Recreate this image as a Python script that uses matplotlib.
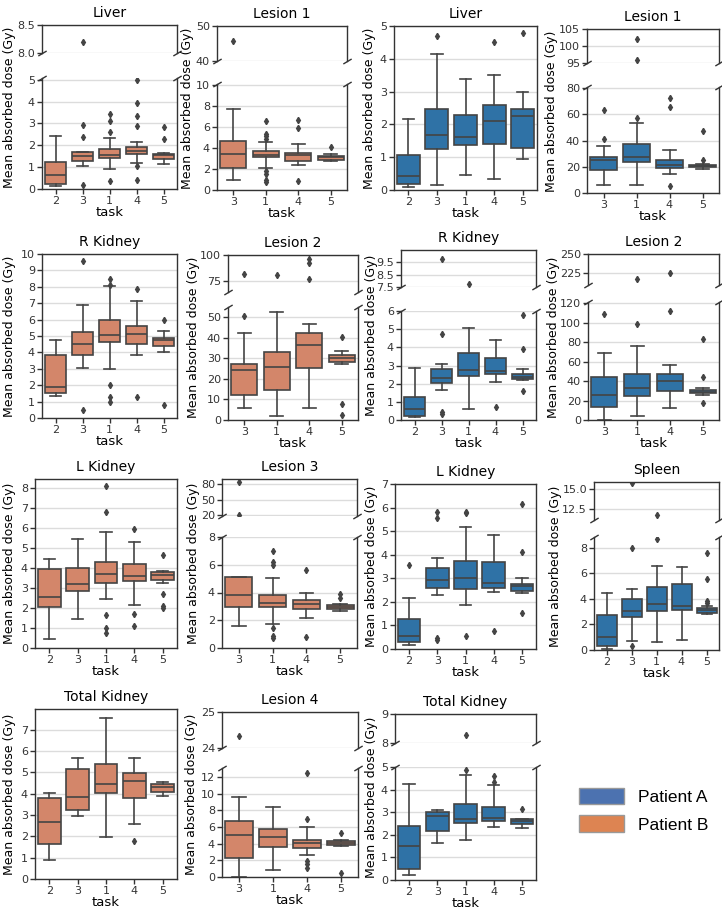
import matplotlib
matplotlib.use("Agg")
import matplotlib.pyplot as plt
from matplotlib.patches import Patch

W, H = 722, 916
BLUE = "#2f72a6"
ORANGE = "#d3866a"
LINE = "#444444"
FRAME = "#333333"
GRID = "#dcdcdc"

tasks5 = [2, 3, 1, 4, 5]
tasks4 = [3, 1, 4, 5]

# box stats per task: (whislo, q1, med, q3, whishi)
liver_b = [(0.15, 0.25, 0.66, 1.23, 2.41), (1.04, 1.27, 1.5, 1.69, 1.7),
           (0.9, 1.4, 1.57, 1.81, 2.32), (1.19, 1.58, 1.76, 1.91, 2.14),
           (1.14, 1.37, 1.55, 1.61, 1.64)]
liver_b_out = [[], [2.93, 2.37, 0.2, 8.2], [3.45, 3.1, 2.6, 0.35],
               [5.0, 3.95, 3.33, 2.9, 1.07, 0.4], [2.85, 2.27]]

lesion1_b = [(0.95, 2.05, 3.47, 4.7, 7.7), (2.1, 3.1, 3.3, 3.7, 4.57),
             (2.4, 2.8, 3.3, 3.56, 4.4), (2.8, 2.9, 3.1, 3.28, 3.47)]
lesion1_b_out = [[45.8], [6.6, 5.35, 5.1, 4.9, 1.8, 1.5, 1.0, 0.75],
                 [6.7, 5.9, 0.9], [4.1]]

liver_a = [(0.08, 0.17, 0.42, 1.07, 2.15), (0.15, 1.25, 1.67, 2.46, 4.14),
           (0.45, 1.36, 1.63, 2.28, 3.39), (0.33, 1.41, 2.11, 2.6, 3.51),
           (0.96, 1.27, 2.25, 2.46, 2.99)]
liver_a_out = [[], [4.7], [], [4.52], [4.78]]

lesion1_a = [(5.8, 17.6, 24.9, 27.2, 36.2), (6.0, 23.6, 27.7, 37.2, 53.8),
             (14.6, 19.1, 21.4, 24.9, 32.7), (18.0, 19.5, 20.3, 21.3, 22.0)]
lesion1_a_out = [[63.6, 41.5], [57.4, 102.0, 96.0], [72.5, 65.5, 5.0], [47.0, 25.0]]

rkid_b = [(1.35, 1.55, 1.9, 3.84, 4.73), (3.02, 3.82, 4.51, 5.27, 6.9),
          (3.0, 4.61, 5.06, 5.98, 8.02), (3.82, 4.49, 5.1, 5.63, 7.14),
          (4.0, 4.41, 4.76, 4.9, 5.3)]
rkid_b_out = [[], [9.6, 0.5], [8.45, 8.1, 2.0, 1.3, 1.0], [7.85, 1.3], [5.95, 0.8]]

lesion2_b = [(5.7, 12.0, 24.5, 27.1, 42.5), (1.9, 14.6, 25.6, 33.3, 52.4),
             (5.7, 25.5, 36.5, 42.5, 46.8), (27.3, 28.4, 30.0, 31.5, 33.6)]
lesion2_b_out = [[50.5, 81.2], [80.6], [96.0, 92.5, 76.6], [40.2, 7.8, 2.5]]

rkid_a = [(0.18, 0.24, 0.6, 1.28, 2.84), (1.65, 2.06, 2.29, 2.81, 3.06),
          (0.6, 2.42, 2.77, 3.7, 5.05), (2.11, 2.53, 2.7, 3.43, 4.39),
          (2.2, 2.26, 2.39, 2.55, 2.81)]
rkid_a_out = [[], [4.72, 0.45, 0.35, 9.8], [7.74], [0.73], [5.8, 3.9, 1.58]]

lesion2_a = [(0.0, 13.7, 26.0, 44.6, 68.6), (4.1, 25.0, 33.3, 47.0, 76.0),
             (12.0, 29.8, 40.5, 47.6, 56.6), (25.7, 27.8, 29.1, 31.2, 33.3)]
lesion2_a_out = [[109.0], [99.0, 218.0], [112.0, 226.0], [83.0, 44.0, 17.0]]

lkid_b = [(0.47, 2.03, 2.55, 3.97, 4.43), (1.43, 2.85, 3.2, 3.98, 5.45),
          (2.45, 3.25, 3.72, 4.28, 5.78), (2.17, 3.35, 3.62, 4.22, 5.28),
          (3.25, 3.42, 3.65, 3.78, 3.83)]
lkid_b_out = [[], [], [8.1, 6.8, 1.65, 1.0, 0.75], [5.95, 1.7, 1.1], [4.67, 2.7, 2.1, 2.0]]

lesion3_b = [(1.56, 2.93, 3.8, 5.14, 5.14), (1.75, 2.98, 3.25, 3.8, 5.02),
             (2.14, 2.84, 3.17, 3.44, 3.94), (2.64, 2.79, 2.93, 3.1, 3.17)]
lesion3_b_out = [[85.0, 20.8], [7.0, 6.2, 6.0, 1.45, 0.85, 0.75], [5.6, 0.8], [3.9, 3.6]]

lkid_a = [(0.18, 0.28, 0.57, 1.27, 2.16), (2.3, 2.6, 2.94, 3.44, 3.86),
          (1.87, 2.55, 3.01, 3.75, 5.19), (2.43, 2.6, 2.79, 3.68, 4.85),
          (2.36, 2.48, 2.66, 2.74, 3.01)]
lkid_a_out = [[3.58], [5.8, 5.55, 0.45, 0.4], [5.8, 5.75, 0.55], [0.75], [6.17, 4.1, 1.52]]

spleen_a = [(0.1, 0.31, 0.99, 2.75, 4.49), (0.73, 2.55, 3.01, 3.97, 4.73),
            (0.65, 3.04, 3.56, 4.94, 6.55), (0.78, 3.12, 3.45, 5.14, 6.49),
            (2.78, 2.91, 3.09, 3.27, 3.4)]
spleen_a_out = [[], [8.0, 0.35, 15.8], [8.67, 11.7], [], [7.55, 5.55, 3.85, 3.7]]

tkid_b = [(0.89, 1.66, 2.69, 3.79, 4.02), (2.96, 3.24, 3.85, 5.18, 5.65),
          (1.96, 4.02, 4.44, 5.41, 7.53), (2.58, 3.8, 4.6, 4.96, 5.65),
          (3.9, 4.1, 4.3, 4.46, 4.57)]
tkid_b_out = [[], [], [], [1.8], []]

lesion4_b = [(0.0, 2.28, 5.08, 6.72, 9.64), (0.84, 3.6, 4.84, 5.76, 8.44),
             (2.6, 3.48, 4.12, 4.48, 6.04), (3.72, 3.88, 4.08, 4.28, 4.44)]
lesion4_b_out = [[24.33], [], [12.5, 7.0, 1.9, 1.6, 1.1], [5.3, 0.5]]

tkid_a = [(0.22, 0.47, 1.52, 2.37, 4.26), (1.63, 2.17, 2.81, 3.0, 3.11),
          (1.79, 2.51, 2.69, 3.37, 4.63), (2.34, 2.59, 2.74, 3.25, 4.22),
          (2.29, 2.5, 2.6, 2.68, 2.71)]
tkid_a_out = [[], [], [4.88, 8.28], [4.6, 4.35], [3.12]]

# panels: title, tasks, stats, fliers, color,
# bottom ylim, bottom ticks, top ylim, top ticks (None = no break),
# pixel layout (left, right, top-axes top, top-axes bottom, bottom-axes top, bottom), ylabel x
panels = [
    ("Liver", tasks5, liver_b, liver_b_out, ORANGE, (0, 5.08), [0, 1, 2, 3, 4, 5], (8.0, 8.5), [8.0, 8.5],
     (42, 177, 25, 53, 78, 189), 10),
    ("Lesion 1", tasks4, lesion1_b, lesion1_b_out, ORANGE, (0, 10.1), [0, 2, 4, 6, 8, 10], (40, 50), [40, 50],
     (217, 347, 26, 61, 84, 190), 188),
    ("Liver", tasks5, liver_a, liver_a_out, BLUE, (0, 5), [0, 1, 2, 3, 4, 5], None, None,
     (394, 537, None, None, 26, 190), 370),
    ("Lesion 1", tasks4, lesion1_a, lesion1_a_out, BLUE, (0, 81), [0, 20, 40, 60, 80], (95, 105), [95, 100, 105],
     (587, 719, 29, 63, 87, 193), 551),
    ("R Kidney", tasks5, rkid_b, rkid_b_out, ORANGE, (0, 10), list(range(11)), None, None,
     (42, 177, None, None, 254, 418), 10),
    ("Lesion 2", tasks4, lesion2_b, lesion2_b_out, ORANGE, (0, 55), [0, 10, 20, 30, 40, 50], (64, 100), [75, 100],
     (228, 358, 255, 292, 307, 420), 194),
    ("R Kidney", tasks5, rkid_a, rkid_a_out, BLUE, (0, 6), [0, 1, 2, 3, 4, 5, 6], (7.5, 10.5), [7.5, 8.5, 9.5],
     (401, 536, 250, 287, 311, 420), 371),
    ("Lesion 2", tasks4, lesion2_a, lesion2_a_out, BLUE, (0, 121.5), [0, 20, 40, 60, 80, 100, 120], (210, 250), [225, 250],
     (588, 719, 254, 285, 302, 420), 553),
    ("L Kidney", tasks5, lkid_b, lkid_b_out, ORANGE, (0, 8.45), list(range(9)), None, None,
     (35, 177, None, None, 479, 648), 10),
    ("Lesion 3", tasks4, lesion3_b, lesion3_b_out, ORANGE, (0, 8), [0, 2, 4, 6, 8], (19, 90), [20, 50, 80],
     (222, 357, 479, 516, 537, 648), 194),
    ("L Kidney", tasks5, lkid_a, lkid_a_out, BLUE, (0, 7), list(range(8)), None, None,
     (395, 536, None, None, 484, 649), 371),
    ("Spleen", tasks5, spleen_a, spleen_a_out, BLUE, (0, 8.83), [0, 2, 4, 6, 8], (11.1, 15.9), [12.5, 15.0],
     (594, 719, 482, 520, 537, 650), 555),
    ("Total Kidney", tasks5, tkid_b, tkid_b_out, ORANGE, (0, 7.97), list(range(8)), None, None,
     (35, 177, None, None, 709, 879), 10),
    ("Lesion 4", tasks4, lesion4_b, lesion4_b_out, ORANGE, (0, 13.1), [0, 2, 4, 6, 8, 10, 12], (24, 25), [24, 25],
     (222, 358, 712, 748, 768, 877), 192),
    ("Total Kidney", tasks5, tkid_a, tkid_a_out, BLUE, (0, 5), [0, 1, 2, 3, 4, 5], (8, 9), [8, 9],
     (395, 536, 714, 743, 767, 880), 371),
]

plt.rcParams["font.family"] = "DejaVu Sans"
fig = plt.figure(figsize=(W / 100, H / 100), dpi=100)


def px_axes(l, r, t, b):
    return fig.add_axes([l / W, 1 - b / H, (r - l) / W, (b - t) / H])


def style(ax, yticks, ylim):
    ax.set_ylim(*ylim)
    ax.set_yticks(yticks)
    ax.yaxis.grid(True, color=GRID, lw=1)
    ax.set_axisbelow(True)
    ax.tick_params(direction="out", length=3.5, width=1, color=FRAME,
                   labelsize=8, labelcolor="#333333", pad=1.5)
    for s in ax.spines.values():
        s.set_color(FRAME)
        s.set_linewidth(1)


def draw_boxes(ax, stats, fliers, color, lo, hi):
    bx = []
    for (wl, q1, md, q3, wh), fl in zip(stats, fliers):
        bx.append(dict(whislo=wl, q1=q1, med=md, q3=q3, whishi=wh,
                       fliers=[f for f in fl if lo <= f <= hi]))
    ax.bxp(bx, positions=range(len(bx)), widths=0.8, patch_artist=True,
           boxprops=dict(facecolor=color, edgecolor=LINE, lw=1.2),
           medianprops=dict(color=LINE, lw=1.2),
           whiskerprops=dict(color=LINE, lw=1.2),
           capprops=dict(color=LINE, lw=1.2),
           flierprops=dict(marker="d", markersize=3.2, markerfacecolor=LINE,
                           markeredgecolor=LINE))
    ax.set_xlim(-0.5, len(bx) - 0.5)


brk = dict(marker=[(-1, -0.6), (1, 0.6)], markersize=6, linestyle="none",
           color=FRAME, mec=FRAME, mew=1, clip_on=False)

for (title, tasks, stats, fliers, color, ylim_b, ticks_b, ylim_t, ticks_t, lay, ylx) in panels:
    l, r, tt, tb, bt, bb = lay
    axb = px_axes(l, r, bt, bb)
    style(axb, ticks_b, ylim_b)
    draw_boxes(axb, stats, fliers, color, ylim_b[0], ylim_b[1])
    axb.set_xticks(range(len(tasks)))
    axb.set_xticklabels([str(t) for t in tasks])
    axb.set_xlabel("task", fontsize=9.5, labelpad=0)
    if ylim_t is not None:
        axt = px_axes(l, r, tt, tb)
        style(axt, ticks_t, ylim_t)
        draw_boxes(axt, stats, fliers, color, ylim_t[0], ylim_t[1])
        axt.spines["bottom"].set_visible(False)
        axt.tick_params(axis="x", bottom=False, labelbottom=False)
        axb.spines["top"].set_visible(False)
        axt.plot([0, 1], [0, 0], transform=axt.transAxes, **brk)
        axb.plot([0, 1], [1, 1], transform=axb.transAxes, **brk)
        top = tt
    else:
        top = bt
    fig.text((l + r) / 2 / W, 1 - (top - 12) / H, title, ha="center", va="center", fontsize=10)
    fig.text(ylx / W, 1 - (top + bb) / 2 / H, "Mean absorbed dose (Gy)", rotation=90,
             ha="center", va="center", fontsize=9)

handles = [Patch(facecolor="#4c72b0", edgecolor="#999999", label="Patient A"),
           Patch(facecolor="#dd8452", edgecolor="#999999", label="Patient B")]
fig.legend(handles=handles, loc="upper left", bbox_to_anchor=(563 / W, 1 - 772 / H),
           frameon=False, prop={"family": "Liberation Sans", "size": 12.5},
           handlelength=2.6, handleheight=1.1, labelspacing=0.6, handletextpad=0.8)

fig.savefig("out.png", dpi=100)
